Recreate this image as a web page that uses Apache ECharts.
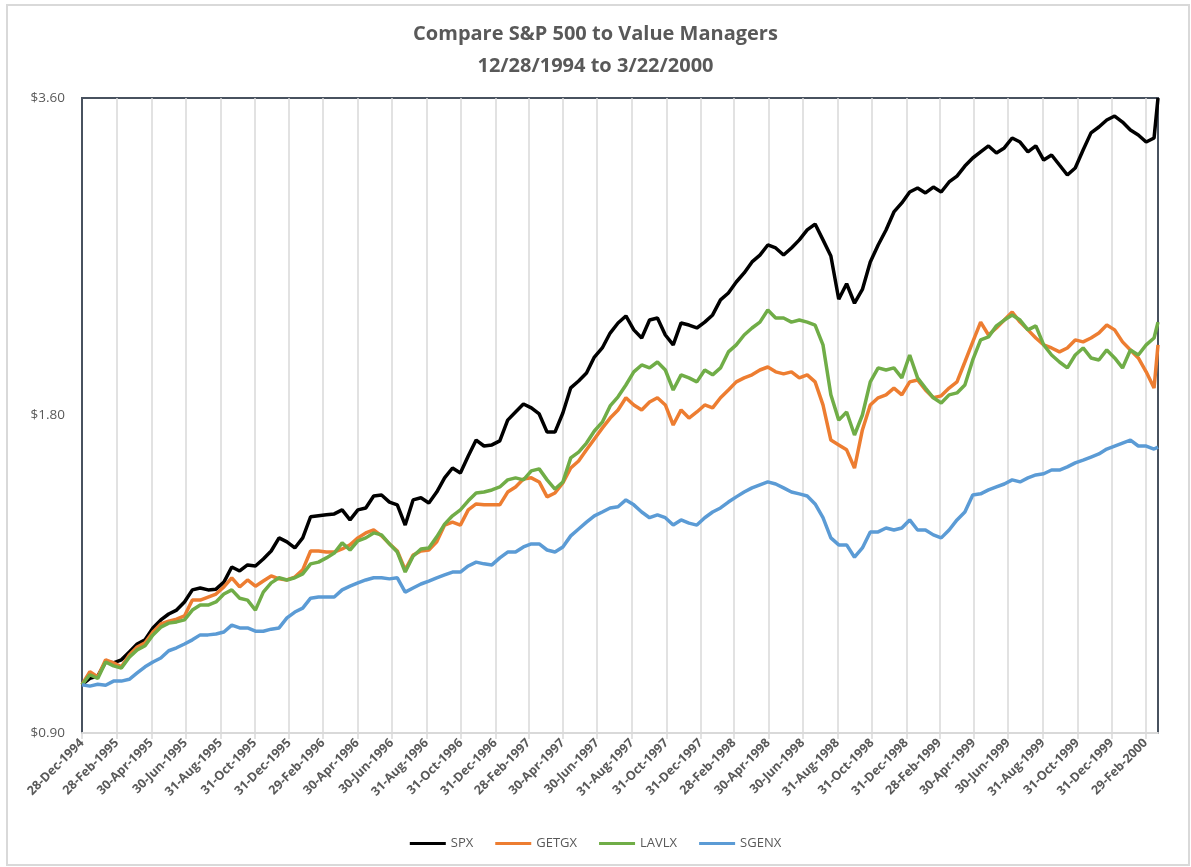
<!DOCTYPE html>
<html>
<head>
<meta charset="utf-8">
<script src="https://cdn.jsdelivr.net/npm/echarts@6/dist/echarts.min.js"></script>
<style>
html,body{margin:0;padding:0;background:#ffffff;}
#chart{width:1191px;height:867px;}
</style>
</head>
<body>
<div id="chart"></div>
<script>
const titleLines = ['Compare S&P 500 to Value Managers', '12/28/1994 to 3/22/2000'];
const seriesNames = ['SPX', 'GETGX', 'LAVLX', 'SGENX'];
const tickDates = ['1994-12-28','1995-02-28','1995-04-30','1995-06-30','1995-08-31','1995-10-31','1995-12-31',
  '1996-02-29','1996-04-30','1996-06-30','1996-08-31','1996-10-31','1996-12-31',
  '1997-02-28','1997-04-30','1997-06-30','1997-08-31','1997-10-31','1997-12-31',
  '1998-02-28','1998-04-30','1998-06-30','1998-08-31','1998-10-31','1998-12-31',
  '1999-02-28','1999-04-30','1999-06-30','1999-08-31','1999-10-31','1999-12-31','2000-02-29'];
const yTicks = [0.90, 1.80, 3.60];
const firstDate = '1994-12-28';
const lastDate = '2000-03-22';
const stepDays = 14;

const spx = [
1.000,1.014,1.019,1.051,1.049,1.056,1.074,1.093,1.103,1.132,
1.152,1.167,1.177,1.198,1.230,1.235,1.230,1.232,1.251,1.293,
1.282,1.299,1.296,1.316,1.339,1.378,1.366,1.348,1.378,1.443,
1.446,1.449,1.452,1.465,1.433,1.465,1.471,1.510,1.513,1.490,
1.481,1.417,1.497,1.504,1.487,1.523,1.571,1.605,1.588,1.648,
1.706,1.684,1.688,1.703,1.782,1.814,1.846,1.830,1.806,1.736,
1.736,1.810,1.912,1.941,1.975,2.045,2.086,2.155,2.203,2.237,
2.170,2.132,2.217,2.227,2.146,2.100,2.203,2.193,2.179,2.207,
2.242,2.317,2.352,2.409,2.457,2.517,2.555,2.612,2.595,2.555,
2.595,2.641,2.699,2.734,2.641,2.550,2.320,2.400,2.300,2.370,
2.517,2.612,2.699,2.807,2.863,2.932,2.958,2.926,2.964,2.932,
2.997,3.036,3.103,3.158,3.200,3.242,3.193,3.228,3.299,3.270,
3.200,3.242,3.144,3.179,3.110,3.043,3.090,3.214,3.336,3.379,
3.431,3.461,3.416,3.357,3.321,3.270,3.299,3.600];

const getgx = [
1.000,1.029,1.017,1.056,1.049,1.040,1.067,1.086,1.096,1.122,
1.142,1.149,1.154,1.162,1.203,1.203,1.211,1.219,1.238,1.263,
1.238,1.257,1.240,1.254,1.268,1.260,1.257,1.265,1.285,1.339,
1.339,1.336,1.336,1.345,1.357,1.378,1.393,1.402,1.384,1.360,
1.339,1.285,1.327,1.339,1.342,1.366,1.417,1.426,1.417,1.465,
1.484,1.481,1.481,1.481,1.523,1.540,1.567,1.571,1.557,1.507,
1.520,1.554,1.605,1.630,1.670,1.710,1.751,1.790,1.822,1.871,
1.842,1.822,1.854,1.871,1.842,1.763,1.822,1.790,1.814,1.842,
1.830,1.871,1.903,1.937,1.954,1.967,1.988,2.001,1.980,1.971,
1.980,1.954,1.967,1.937,1.842,1.706,1.688,1.670,1.605,1.744,
1.842,1.871,1.883,1.911,1.883,1.937,1.945,1.903,1.871,1.879,
1.911,1.937,2.023,2.114,2.207,2.146,2.179,2.217,2.256,2.207,
2.170,2.132,2.100,2.086,2.068,2.086,2.123,2.114,2.132,2.155,
2.193,2.170,2.114,2.077,2.041,1.980,1.911,2.100];

const lavlx = [
1.000,1.022,1.014,1.051,1.042,1.037,1.062,1.079,1.089,1.115,
1.134,1.144,1.147,1.152,1.177,1.190,1.190,1.198,1.219,1.230,
1.208,1.203,1.177,1.224,1.249,1.263,1.257,1.263,1.274,1.302,
1.307,1.319,1.333,1.363,1.342,1.369,1.378,1.393,1.387,1.360,
1.336,1.279,1.324,1.345,1.348,1.381,1.420,1.446,1.465,1.494,
1.520,1.523,1.530,1.540,1.564,1.571,1.564,1.595,1.602,1.564,
1.533,1.557,1.641,1.662,1.695,1.740,1.774,1.838,1.875,1.924,
1.980,2.010,1.997,2.023,1.988,1.903,1.967,1.954,1.937,1.988,
1.967,1.997,2.068,2.100,2.146,2.179,2.207,2.266,2.227,2.227,
2.207,2.217,2.207,2.193,2.100,1.883,1.782,1.814,1.725,1.802,
1.937,1.997,1.988,1.997,1.954,2.054,1.954,1.911,1.871,1.850,
1.883,1.891,1.924,2.032,2.123,2.137,2.189,2.217,2.242,2.217,
2.170,2.189,2.100,2.054,2.023,1.997,2.054,2.086,2.041,2.032,
2.077,2.041,1.997,2.077,2.054,2.100,2.132,2.207];

const sgenx = [
1.000,0.997,1.001,0.999,1.008,1.008,1.012,1.026,1.040,1.051,
1.060,1.077,1.084,1.093,1.103,1.115,1.115,1.117,1.122,1.139,
1.132,1.132,1.124,1.124,1.129,1.132,1.157,1.172,1.182,1.208,
1.211,1.211,1.211,1.230,1.240,1.249,1.257,1.263,1.263,1.260,
1.263,1.224,1.235,1.246,1.254,1.263,1.271,1.279,1.279,1.296,
1.307,1.302,1.299,1.319,1.336,1.336,1.351,1.360,1.360,1.342,
1.336,1.351,1.384,1.405,1.426,1.446,1.458,1.471,1.475,1.497,
1.481,1.458,1.440,1.449,1.440,1.417,1.433,1.423,1.417,1.440,
1.458,1.471,1.490,1.507,1.523,1.537,1.547,1.557,1.550,1.537,
1.523,1.517,1.510,1.484,1.440,1.378,1.357,1.357,1.321,1.348,
1.396,1.396,1.408,1.402,1.408,1.433,1.402,1.402,1.387,1.378,
1.402,1.433,1.458,1.513,1.517,1.530,1.540,1.550,1.564,1.557,
1.571,1.581,1.585,1.598,1.598,1.609,1.623,1.633,1.644,1.655,
1.673,1.684,1.695,1.706,1.684,1.684,1.673,1.680];

const seriesColors = ['#000000', '#ED7D31', '#70AD47', '#5B9BD5'];
const MONTHS = ['Jan','Feb','Mar','Apr','May','Jun','Jul','Aug','Sep','Oct','Nov','Dec'];

function toTs(s) {
  const p = s.split('-').map(Number);
  return new Date(p[0], p[1] - 1, p[2]).getTime();
}
function fmtDate(v) {
  const d = new Date(v);
  return d.getDate() + '-' + MONTHS[d.getMonth()] + '-' + d.getFullYear();
}
const f = firstDate.split('-').map(Number);
const dates = [];
for (let i = 0; i < spx.length - 1; i++) {
  dates.push(new Date(f[0], f[1] - 1, f[2] + stepDays * i).getTime());
}
dates.push(toTs(lastDate));

const allData = [spx, getgx, lavlx, sgenx];
const tickTs = tickDates.map(toTs);
const FONT = 'Open Sans';

const chart = echarts.init(document.getElementById('chart'), null, {renderer: 'canvas'});
chart.setOption({
  animation: false,
  backgroundColor: '#ffffff',
  textStyle: {fontFamily: FONT},
  graphic: [{
    type: 'rect', z: 100, silent: true,
    shape: {x: 7, y: 5, width: 1182, height: 860},
    style: {fill: 'none', stroke: '#d9d9d9', lineWidth: 2}
  }],
  title: {
    text: titleLines.join('\n'),
    left: 'center', top: 13,
    textStyle: {fontFamily: FONT, fontSize: 20, fontWeight: 'bold', color: '#595959', lineHeight: 32}
  },
  legend: {
    data: seriesNames,
    top: 832, left: 'center',
    icon: 'rect',
    itemWidth: 36, itemHeight: 3, itemGap: 22,
    textStyle: {fontFamily: FONT, fontSize: 13, color: '#595959'}
  },
  grid: {
    left: 82, right: 33, top: 98, bottom: 134,
    show: true, borderColor: '#48525f', borderWidth: 2, backgroundColor: 'transparent'
  },
  xAxis: {
    type: 'value',
    min: toTs(firstDate), max: toTs(lastDate),
    axisLine: {show: true, lineStyle: {color: '#d9d9d9', width: 2}},
    axisTick: {show: true, customValues: tickTs, length: 6, lineStyle: {color: '#d9d9d9', width: 1.5}},
    splitLine: {show: true, lineStyle: {color: '#d9d9d9', width: 1.5}},
    axisLabel: {
      customValues: tickTs,
      rotate: 45, margin: 8,
      fontFamily: FONT, fontSize: 12.5, fontWeight: 'bold', color: '#595959',
      formatter: fmtDate, hideOverlap: false
    }
  },
  yAxis: {
    type: 'log', logBase: 2, min: 0.9, max: 3.6,
    axisLine: {show: true, lineStyle: {color: '#48525f', width: 2}},
    axisTick: {show: false},
    splitLine: {show: false},
    axisLabel: {
      customValues: yTicks,
      margin: 17, fontFamily: FONT, fontSize: 13.5, color: '#595959',
      formatter: v => '$' + Number(v).toFixed(2)
    }
  },
  series: seriesNames.map((name, k) => ({
    name: name, type: 'line', symbol: 'none', showSymbol: false,
    color: seriesColors[k],
    lineStyle: {width: 3.5, color: seriesColors[k]},
    data: dates.map((d, i) => [d, allData[k][i]])
  }))
});
</script>
</body>
</html>
